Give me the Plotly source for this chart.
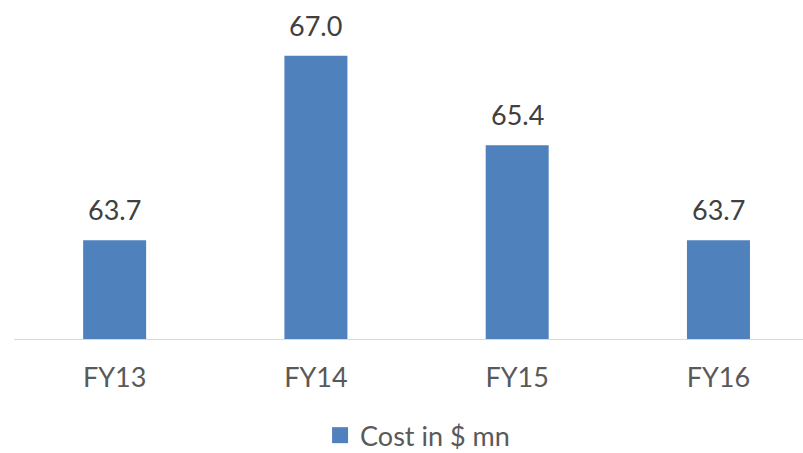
import plotly.graph_objects as go

categories = ["FY13", "FY14", "FY15", "FY16"]
values = [63.7, 67.0, 65.4, 63.7]
labels = ["63.7", "67.0", "65.4", "63.7"]
series_name = "Cost in $ mn"

BAR = "#4F81BD"
FONT = "Lato, Carlito, Calibri, sans-serif"

fig = go.Figure()
fig.add_trace(go.Bar(
    x=categories, y=values, name=series_name,
    marker=dict(color=BAR, line=dict(width=0)),
    width=0.313, showlegend=False,
))
# legend entry with larger square
fig.add_trace(go.Scatter(
    x=[None], y=[None], mode="markers", name=series_name,
    marker=dict(symbol="square", size=17, color=BAR),
    showlegend=True,
))

for c, v, t in zip(categories, values, labels):
    fig.add_annotation(x=c, y=v, text=t, showarrow=False,
                       yanchor="bottom", yshift=12,
                       font=dict(family=FONT, size=27, color="#404040"))

fig.update_layout(
    width=803, height=453,
    margin=dict(l=13.5, r=0, t=0, b=114, autoexpand=False),
    paper_bgcolor="white", plot_bgcolor="white",
    font=dict(family=FONT, size=27, color="#595959"),
    xaxis=dict(range=[-0.5, 3.42], showline=True, linecolor="#D9D9D9",
               linewidth=1.3, showgrid=False, zeroline=False, ticks="",
               ticklabelstandoff=14,
               tickfont=dict(family=FONT, size=27, color="#595959")),
    yaxis=dict(range=[61.93, 68.0], visible=False, showgrid=False,
               zeroline=False),
    showlegend=True,
    legend=dict(orientation="h", xref="container", yref="paper",
                x=0.52, xanchor="center", y=-0.285, yanchor="middle",
                itemsizing="trace", itemwidth=30,
                font=dict(family=FONT, size=27, color="#595959")),
)

fig.write_html("out.html")
